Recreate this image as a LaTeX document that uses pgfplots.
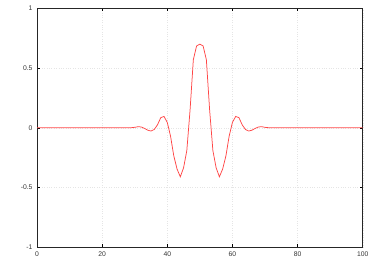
\documentclass[border=0pt]{standalone}
\usepackage{fontspec}
\setmainfont{Liberation Sans}
\usepackage{pgfplots}
\pgfplotsset{compat=1.18}
\definecolor{wred}{RGB}{255,70,70}
\begin{document}
\begin{tikzpicture}
\begin{axis}[
  scale only axis,
  width=325.7bp, height=239bp,
  xmin=0, xmax=100, ymin=-1, ymax=1,
  xtick={0,20,...,100},
  ytick={-1,-0.5,0,0.5,1},
  yticklabels={-1,-0.5,0,0.5,1},
  tick align=inside,
  major tick length=3bp,
  tick style={black, line width=0.5pt},
  axis line style={black!85, line width=0.8pt},
  grid=major,
  major grid style={gray!20, dotted, line width=0.4pt},
  ticklabel style={font=\fontsize{6.8}{8}\selectfont, text=black!80},
  /pgf/number format/assume math mode=true,
  xticklabel style={yshift=-0.5bp},
  yticklabel style={xshift=-1bp},
  clip=true,
]
\addplot[wred, line width=0.75pt] coordinates {
(0,0) (28,0) (29,0.001) (30,0.004) (31,0.009) (32,0.007) (33,-0.005) (34,-0.020) (35,-0.027) (36,-0.014) (37,0.025) (38,0.085) (39,0.095) (40,0.045) (41,-0.070) (42,-0.235) (43,-0.345) (44,-0.410) (45,-0.335) (46,-0.190) (47,0.150) (48,0.570) (49,0.685) (50,0.700) (51,0.685) (52,0.570) (53,0.150) (54,-0.190) (55,-0.335) (56,-0.410) (57,-0.345) (58,-0.235) (59,-0.070) (60,0.045) (61,0.095) (62,0.085) (63,0.025) (64,-0.014) (65,-0.027) (66,-0.020) (67,-0.005) (68,0.007) (69,0.009) (70,0.004) (71,0.001) (72,0) (100,0)
};
\end{axis}
\pgfresetboundingbox
\path ([shift={(-37bp,-14.7bp)}]current axis.south west) rectangle ([shift={(11.3bp,8.3bp)}]current axis.north east);
\end{tikzpicture}
\end{document}
